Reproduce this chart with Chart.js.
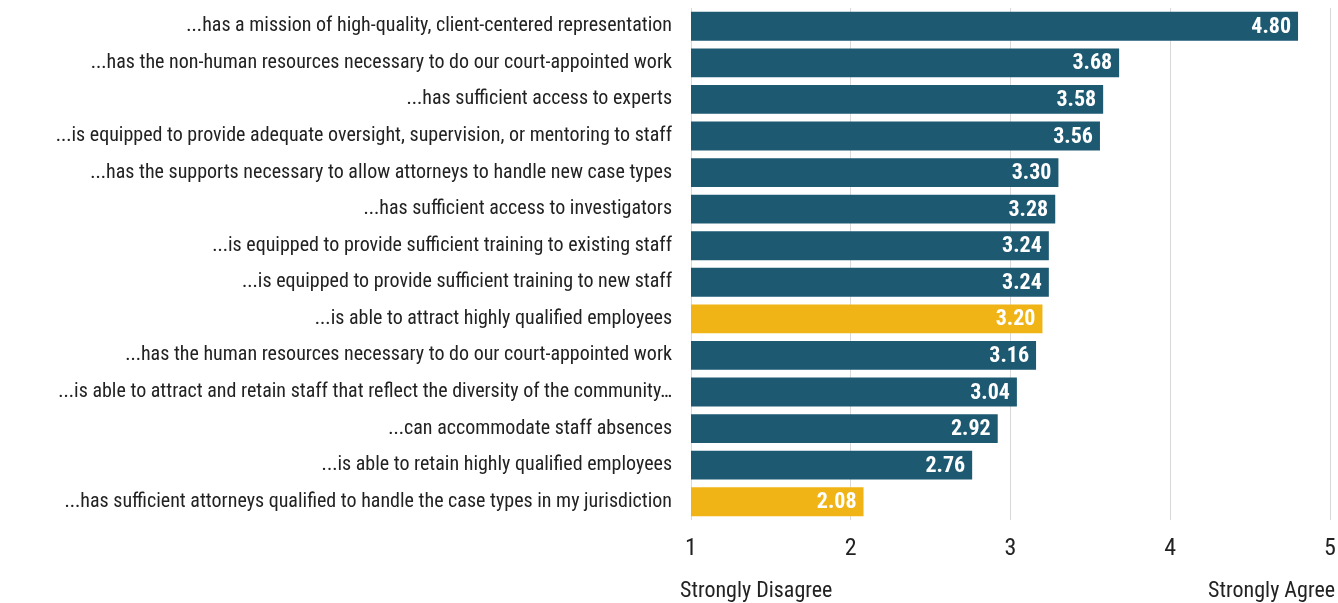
<!DOCTYPE html>
<html>
<head>
<meta charset="utf-8">
<script src="https://cdn.jsdelivr.net/npm/chart.js@4"></script>
<style>
  html, body { margin: 0; padding: 0; background: #fff; }
  .wrap { width: 1338px; height: 603px; }
</style>
</head>
<body>
<div class="wrap"><canvas id="chart"></canvas></div>
<script>
// ── Data ────────────────────────────────────────────────────────────────────
const statements = [
  '...has a mission of high-quality, client-centered representation',
  '...has the non-human resources necessary to do our court-appointed work',
  '...has sufficient access to experts',
  '...is equipped to provide adequate oversight, supervision, or mentoring to staff',
  '...has the supports necessary to allow attorneys to handle new case types',
  '...has sufficient access to investigators',
  '...is equipped to provide sufficient training to existing staff',
  '...is equipped to provide sufficient training to new staff',
  '...is able to attract highly qualified employees',
  '...has the human resources necessary to do our court-appointed work',
  '...is able to attract and retain staff that reflect the diversity of the community…',
  '...can accommodate staff absences',
  '...is able to retain highly qualified employees',
  '...has sufficient attorneys qualified to handle the case types in my jurisdiction'
]
const meanScores = [4.80, 3.68, 3.58, 3.56, 3.30, 3.28, 3.24, 3.24, 3.20, 3.16, 3.04, 2.92, 2.76, 2.08]
const highlighted = [
  '...is able to attract highly qualified employees',
  '...has sufficient attorneys qualified to handle the case types in my jurisdiction'
]
const scaleEnds = ['Strongly Disagree', 'Strongly Agree']

const TEAL = '#1d5a72'
const GOLD = '#f0b416'
const FONT = '"Liberation Sans Narrow", "Arial Narrow", "Roboto Condensed", sans-serif'

// ── Value labels inside bar ends ────────────────────────────────────────────
const valueLabels = {
  id: 'valueLabels',
  afterDatasetsDraw(chart) {
    const ctx = chart.ctx
    const meta = chart.getDatasetMeta(0)
    ctx.save()
    ctx.font = 'bold 22px ' + FONT
    ctx.fillStyle = '#fff'
    ctx.textAlign = 'right'
    ctx.textBaseline = 'middle'
    meta.data.forEach((bar, i) => {
      ctx.fillText(meanScores[i].toFixed(2), bar.x - 7, bar.y + 1)
    })
    ctx.restore()
  }
}

// ── Scale end captions under the axis ───────────────────────────────────────
const endCaptions = {
  id: 'endCaptions',
  afterDraw(chart) {
    const ctx = chart.ctx
    ctx.save()
    ctx.font = '22px ' + FONT
    ctx.fillStyle = '#222'
    ctx.textBaseline = 'middle'
    ctx.textAlign = 'left'
    ctx.fillText(scaleEnds[0], 680, 591)
    ctx.textAlign = 'right'
    ctx.fillText(scaleEnds[1], 1335, 591)
    ctx.restore()
  }
}

new Chart(document.getElementById('chart'), {
  type: 'bar',
  data: {
    labels: statements,
    datasets: [{
      data: meanScores,
      backgroundColor: statements.map(s => highlighted.includes(s) ? GOLD : TEAL),
      borderWidth: 0,
      barPercentage: 0.79,
      categoryPercentage: 1
    }]
  },
  options: {
    indexAxis: 'y',
    responsive: true,
    maintainAspectRatio: false,
    animation: false,
    layout: { padding: { top: 8, right: 8, bottom: 0, left: 0 } },
    plugins: {
      legend: { display: false },
      tooltip: { enabled: false }
    },
    scales: {
      x: {
        min: 1,
        max: 5,
        ticks: { stepSize: 1, padding: 15, color: '#222', font: { family: FONT, size: 24 } },
        grid: { color: '#d9d9d9', drawTicks: false },
        border: { display: false },
        afterFit: s => { s.height = 83; s.paddingLeft = 0; s.paddingRight = 0 }
      },
      y: {
        ticks: { padding: 19, color: '#222', font: { family: FONT, size: 20 } },
        grid: { display: false, drawTicks: false },
        border: { display: false },
        afterFit: s => { s.width = 691; s.paddingTop = 0; s.paddingBottom = 0 }
      }
    }
  },
  plugins: [valueLabels, endCaptions]
})
</script>
</body>
</html>
